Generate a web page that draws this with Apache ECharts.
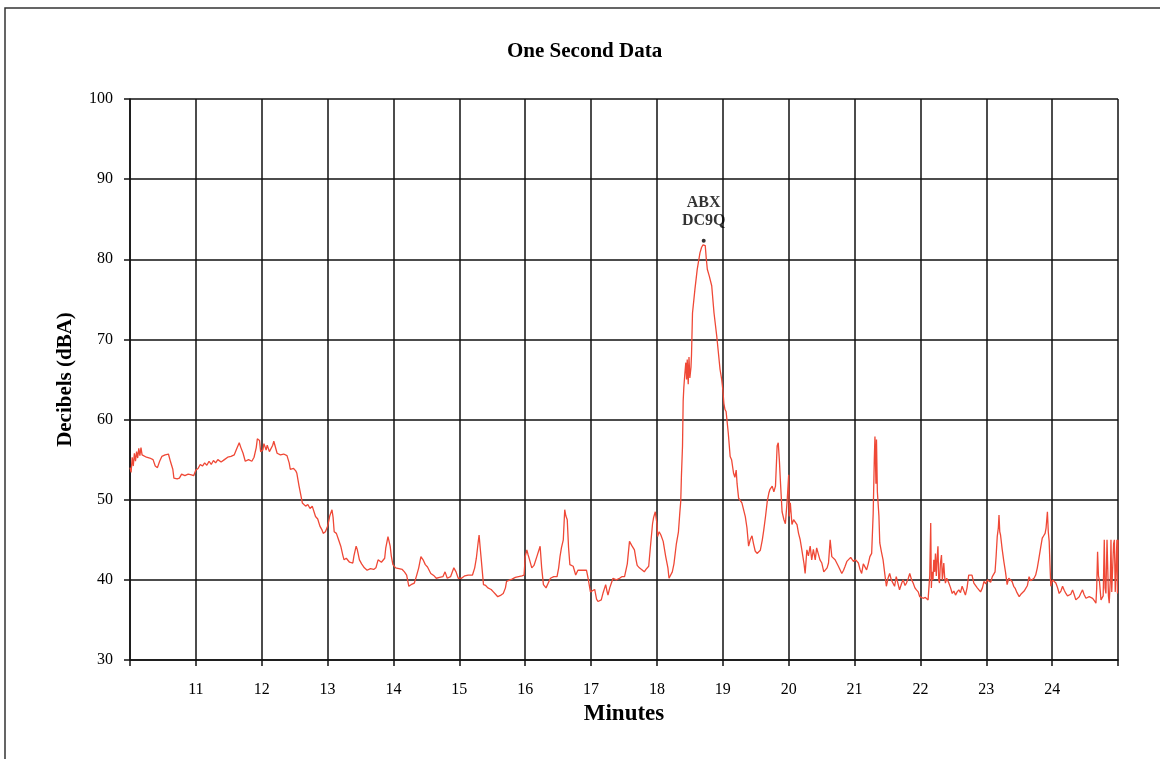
<!DOCTYPE html>
<html><head><meta charset="utf-8">
<script src="https://cdn.jsdelivr.net/npm/echarts@6/dist/echarts.min.js"></script>
<style>html,body{margin:0;padding:0;background:#fff}#c{width:1160px;height:759px}</style>
</head><body><div id="c"></div>
<script>
const chartTitle = 'One Second Data';
const xAxisName = 'Minutes';
const yAxisName = 'Decibels (dBA)';
const startMinute = 10;
// seconds after minute 10
const seconds = [
0,1,2,3,4,5,6,7,8,9,10,11,12,15,18,21,23,25,27,29,32,35,37,39,40,43,45,47,50,53,56,58,60,62,64,66,68,70,72,74,76,78,80,83,86,89,92,95,97,99.5,101,103,105,108,111,113,115,116,118,119,121,122,124,125,127,128,130,131,133,134,137,140,143,145,146,149,151,152,154,157,160,162,164,166,169,171,173,175,176,178,180,
181,182,184,185,186,188,190,192,194,195,197,200,203,204,206,207,209,211,213.5,216,219,222,224,226,229,232,233,235,237,238,239.5,242,245,248,250,252,254,256,259,261,263,265,267,269,271,274,277,279,282,285,287,289,292,295,297,299,302,305,308,312,314,315.5,317,318,319,320,322,324,326,329,331,333,335,338,340,342,343,346,348,351,354,357,359,
360,361.5,362.5,364,366,368,369,370.6,372,373.6,375,376.6,379,381,383,386,389,390.5,391.7,393,394.7,396,397,398.3,399.5,400.7,402,403.7,406,408,410,413,415.8,417.3,419.4,421,423.3,425,426.3,428,429.3,431,433.3,434.5,435.4,437,440,443,446,448,450.5,452,453,455,457,459.5,461,462,464,466,468.5,470,472.5,474,476,477,478.5,480,480.6,482,483.6,485.7,488,490,491,
492.5,494,495.5,497.7,499.6,500.8,501.7,502.3,503.3,503.9,504.5,505.3,506.3,507,507.6,508.5,509.2,510,511,511.5,512.4,514.6,516.7,519.2,520.7,522,522.8,524,525,525.9,527.7,529.9,532,534.5,537.5,539,540,541,542,543,545,546.7,548,549.8,551,552.2,553,554.4,557.4,560.5,562,563.5,565,566.6,568,569.5,571.2,573,574.2,576,577.3,579,580.5,581.9,583,585,586.5,588,589.5,590.5,591.5,592.6,594,595.7,597,598.7,600,
600.5,601.5,603,604.5,606,607.6,609,610.5,612,614,615,616.6,618,619.6,621,622.5,624.2,625.5,627.2,628.5,630.2,632,633.3,635,636.3,637.8,639.3,640.5,642.3,645.3,648.4,650,651.4,653,654.4,656.5,659,661,663.5,665,666.5,668,669.5,671,672.5,674,675.6,677,678,678.6,679.5,680,680.8,681.6,682.2,683,684.5,686,687.7,689,690.5,692,693.5,695,696.5,698,699.5,701,703,704.3,706,707.3,709,710.3,712,713.4,715,716.4,718,719.4,721,722.4,724.5,727,728,728.5,729.4,
730,730.6,731.5,732.2,733,733.7,734.5,735.3,736,736.7,737.4,738.2,739.2,740,741.3,742,742.8,744,745.9,747.5,749,750.5,752,753.5,755,756.5,758,759.5,761,762.5,764,765.5,767,768.7,770,771.8,773,774.8,776.5,777.9,779.5,781,782.4,784,785.5,787,788,789,790,791,791.6,792.3,793,794.5,796,797.5,799,800.5,802,803.5,805,806.5,808,810,811.5,813,814.5,816,817.5,819,820.5,822,823.5,825,826.5,828,829.5,831,832.3,833.6,834.5,835.7,836.5,837.3,838,838.8,840.3,841.8,843.4,845,846.4,848,849.5,851,852.5,854,855.5,857,858.6,860,861.6,863,864.7,866,867.7,869,870.8,872.3,873.8,875.3,876.9,878.4,879.9,880.6,881.4,882.2,883,884.5,885.5,886.5,887.5,888.2,889,890,890.6,891.3,892,893,893.6,894.3,895,896,896.7,897.5,898.2,899,899.5,900
];
// sound level, dBA
const levels = [
54.0,53.4,55.3,54.2,55.8,54.8,56.0,55.2,56.4,55.5,56.5,55.6,55.5,55.3,55.2,55.0,54.2,54.0,54.8,55.4,55.6,55.7,54.7,53.8,52.7,52.6,52.7,53.2,53.0,53.2,53.1,53.0,53.7,53.9,54.4,54.2,54.6,54.3,54.8,54.4,54.9,54.6,55.0,54.7,55.0,55.3,55.4,55.6,56.3,57.1,56.5,55.8,54.8,55.0,54.8,55.3,56.5,57.6,57.4,56.0,56.2,57.0,56.2,56.8,56.0,56.0,56.8,57.3,56.3,55.8,55.6,55.7,55.5,54.6,53.8,53.9,53.6,53.3,51.7,49.6,49.2,49.4,48.9,49.2,47.9,47.6,46.7,46.2,45.8,46.0,46.7,
47.3,48.0,48.75,47.8,46.0,45.8,45.0,44.2,43.0,42.5,42.7,42.2,42.1,43.0,44.2,43.8,42.5,42.0,41.5,41.2,41.4,41.3,41.5,42.5,42.2,42.7,44.0,45.4,44.2,43.0,41.9,41.5,41.4,41.3,41.0,40.6,39.2,39.4,39.6,40.5,41.5,42.9,42.5,41.9,41.6,40.8,40.5,40.2,40.3,40.4,41.0,40.2,40.4,41.5,41.0,40.2,40.2,40.5,40.6,40.6,41.5,42.7,44.5,45.6,44.0,42.5,39.4,39.3,39.0,38.8,38.5,38.2,37.9,38.1,38.3,39.0,39.8,40.0,40.1,40.3,40.4,40.5,40.6,
42.9,43.75,43.2,42.5,41.5,41.8,42.0,42.9,43.0,44.2,41.5,39.4,39.0,39.6,40.2,40.4,40.4,41.5,42.9,44.0,45.0,48.75,48.0,47.5,44.0,41.9,41.9,41.7,40.6,41.2,41.2,41.2,41.2,40.2,38.5,38.6,38.8,37.6,37.3,37.3,37.5,38.4,39.4,38.6,38.1,39.0,40.2,40.0,40.2,40.4,40.4,40.2,42.0,44.8,44.3,43.75,42.5,41.8,41.5,41.3,41.0,41.3,41.7,44.0,47.0,47.8,48.5,47.0,45.4,46.0,45.6,44.8,42.9,41.5,40.2,
40.3,41.0,42.0,44.5,46.0,48.3,49.8,52.9,56.7,62.3,64.0,65.5,67.1,65.0,67.5,64.4,67.8,65.2,66.5,68.1,73.3,76.25,78.75,80.8,81.5,81.8,82.0,81.7,80.0,78.75,77.9,76.7,73.3,70.4,66.25,65.0,63.75,62.0,61.25,61.0,58.3,55.4,55.0,53.3,52.8,53.7,52.0,50.2,49.6,47.9,46.5,44.2,45.0,45.5,44.5,43.6,43.3,43.1,43.7,45.0,46.2,48.0,49.8,50.8,51.3,51.7,51.0,51.7,56.7,57.1,55.0,52.0,48.5,47.5,47.0,50.0,53.1,
47.9,49.6,46.9,47.5,47.5,46.9,45.8,45.0,43.75,42.0,40.8,43.75,43.0,44.2,42.5,43.8,42.5,44.0,44.2,42.5,42.1,41.0,40.8,41.5,42.1,45.0,42.9,43.0,42.5,41.7,40.8,41.2,41.7,42.3,42.5,42.8,42.3,42.5,42.1,41.3,40.8,42.0,42.1,41.25,42.0,42.9,43.3,48.3,55.0,57.9,52.0,57.5,51.0,51.2,48.0,44.6,43.5,42.5,40.6,39.2,40.2,40.8,40.0,40.0,39.2,40.4,40.5,38.75,39.6,40.0,39.3,39.6,40.2,40.8,40.0,39.6,39.0,38.75,38.5,37.9,37.8,37.7,37.8,37.5,39.5,40.5,47.1,
39.0,41.0,40.0,42.5,41.0,43.3,40.5,42.8,44.2,40.0,39.6,42.0,43.1,40.0,42.1,40.5,39.6,40.2,39.6,39.0,38.3,38.6,38.1,38.5,38.75,38.4,39.2,39.0,38.1,39.0,40.6,40.8,40.6,39.6,39.4,39.0,39.2,38.5,39.0,39.8,39.5,40.0,40.0,39.7,40.4,40.6,41.0,43.0,45.4,46.5,48.1,46.0,45.6,43.8,42.3,41.0,39.4,40.2,40.0,39.8,39.2,38.9,38.4,37.9,38.2,38.3,38.6,38.75,39.3,40.4,39.9,39.8,40.2,40.6,41.5,42.7,44.0,45.2,45.5,45.8,46.5,48.5,46.0,44.8,42.0,39.2,40.0,39.8,39.6,39.0,38.3,38.6,39.2,38.7,38.3,38.0,37.9,38.2,38.75,38.2,37.5,37.7,37.9,38.3,38.75,38.2,37.7,37.8,37.9,37.8,37.7,37.4,37.1,39.0,43.5,40.5,40.0,37.5,37.3,38.0,45.0,39.0,38.3,45.0,45.0,38.0,37.1,40.0,45.0,38.5,38.3,44.5,45.0,38.5,38.3,45.0,38.3,45.0
];
const peakMinute = 18.71;
const peakLevel = 82.3;
const peakLabel = 'ABX\nDC9Q';

const serif = "'Liberation Serif', 'DejaVu Serif', serif";
const series = seconds.map((s, i) => [startMinute + s / 60, levels[i]]);

const chart = echarts.init(document.getElementById('c'), null, {renderer: 'canvas'});
chart.setOption({
  animation: false,
  backgroundColor: '#fff',
  title: {
    text: chartTitle, left: 502, top: 36,
    textStyle: {fontFamily: serif, fontWeight: 'bold', fontSize: 21, color: '#000'}
  },
  graphic: [{
    type: 'rect', silent: true, z: -1,
    shape: {x: 5, y: 8, width: 1300, height: 900},
    style: {fill: 'none', stroke: '#333', lineWidth: 1.5}
  }],
  grid: {left: 130, right: 42, top: 99, bottom: 99},
  xAxis: {
    type: 'value', min: 10, max: 25, interval: 1,
    name: xAxisName, nameLocation: 'middle', nameGap: 40,
    nameTextStyle: {fontFamily: serif, fontWeight: 'bold', fontSize: 23, color: '#000'},
    axisLine: {lineStyle: {color: '#111', width: 1.5}},
    axisTick: {inside: false, length: 6, lineStyle: {color: '#111', width: 1.5}},
    axisLabel: {fontFamily: serif, fontSize: 16, color: '#000', margin: 22,
      formatter: v => (v === 10 || v === 25) ? '' : String(v)},
    splitLine: {show: true, lineStyle: {color: '#111', width: 1.5}}
  },
  yAxis: {
    type: 'value', min: 30, max: 100, interval: 10,
    name: yAxisName, nameLocation: 'middle', nameGap: 54,
    nameTextStyle: {fontFamily: serif, fontWeight: 'bold', fontSize: 21, color: '#000'},
    axisLine: {show: true, lineStyle: {color: '#111', width: 1.5}},
    axisTick: {show: true, inside: false, length: 6, lineStyle: {color: '#111', width: 1.5}},
    axisLabel: {fontFamily: serif, fontSize: 16, color: '#000', margin: 17},
    splitLine: {show: true, lineStyle: {color: '#111', width: 1.5}}
  },
  series: [{
    type: 'line', data: series, showSymbol: false, symbol: 'none',
    lineStyle: {color: '#ef4836', width: 1.3}, z: 3
  }, {
    type: 'scatter', data: [[peakMinute, peakLevel]], symbolSize: 4,
    itemStyle: {color: '#000'}, z: 4,
    label: {show: true, position: 'top', distance: 9, formatter: peakLabel,
      fontFamily: serif, fontWeight: 'bold', fontSize: 16, lineHeight: 18, color: '#000'}
  }]
});
</script></body></html>
